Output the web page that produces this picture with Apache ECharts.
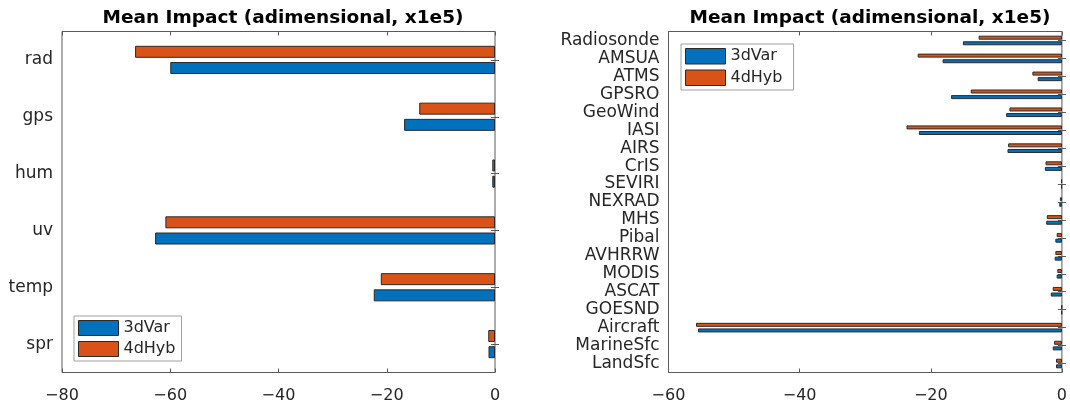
<!DOCTYPE html>
<html>
<head>
<meta charset="utf-8" />
<title>Mean Impact</title>
<script src="https://cdn.jsdelivr.net/npm/echarts@6/dist/echarts.min.js"></script>
<style>
  html, body { margin: 0; padding: 0; background: #fff; }
  #main { width: 1070px; height: 406px; }
</style>
</head>
<body>
<div id="main"></div>
<script>
// data (x1e5), categories listed top to bottom
var leftCats = ['rad', 'gps', 'hum', 'uv', 'temp', 'spr'];
var left3dVar = [-60.0, -16.8, -0.5, -62.8, -22.4, -1.2];
var left4dHyb = [-66.5, -14.0, -0.5, -60.9, -21.1, -1.25];

var rightCats = ['Radiosonde', 'AMSUA', 'ATMS', 'GPSRO', 'GeoWind', 'IASI', 'AIRS', 'CrIS',
  'SEVIRI', 'NEXRAD', 'MHS', 'Pibal', 'AVHRRW', 'MODIS', 'ASCAT', 'GOESND', 'Aircraft',
  'MarineSfc', 'LandSfc'];
var right3dVar = [-15.1, -18.2, -3.7, -16.9, -8.5, -21.8, -8.3, -2.6,
  -0.1, -0.4, -2.4, -1.0, -1.1, -0.8, -1.7, -0.05, -55.5, -1.4, -0.9];
var right4dHyb = [-12.7, -22.0, -4.5, -13.9, -8.0, -23.7, -8.2, -2.5,
  -0.1, -0.3, -2.3, -0.8, -1.0, -0.7, -1.4, -0.05, -55.8, -1.2, -0.9];

var leftTicks = { min: -80, max: 0, interval: 20 };
var rightTicks = { min: -60, max: 0, interval: 20 };

var FONT = 'DejaVu Sans';
var TXT = '#262626';
var LINE = '#5a5a5a';
var EDGE = '#2a2a2a';
var BLUE = '#0072BD';
var ORANGE = '#D95319';

function minusFmt(v) { return String(v).replace('-', '\u2212'); }

function valueAxis(grid, ticks, pos, labels) {
  return {
    type: 'value', gridIndex: grid, position: pos,
    min: ticks.min, max: ticks.max, interval: ticks.interval,
    axisLine: { show: false },
    axisTick: { show: true, inside: true, length: 4, lineStyle: { color: LINE } },
    splitLine: { show: false },
    axisLabel: { show: labels, formatter: minusFmt, margin: 15,
      fontFamily: FONT, fontSize: 16, color: TXT }
  };
}

function catAxis(grid, cats, pos, labels) {
  return {
    type: 'category', gridIndex: grid, position: pos, data: cats, inverse: true,
    axisLine: { show: false },
    axisTick: { show: true, inside: true, length: 4, alignWithLabel: true, interval: 0,
      lineStyle: { color: LINE } },
    axisLabel: { show: labels, interval: 0, margin: 9,
      fontFamily: FONT, fontSize: 17, color: TXT }
  };
}

function barSeries(name, color, data, xi, yi, w, gap) {
  return {
    name: name, type: 'bar', xAxisIndex: xi, yAxisIndex: yi, data: data,
    barWidth: w, barGap: gap,
    itemStyle: { color: color, borderColor: EDGE, borderWidth: 1 },
    emphasis: { disabled: true }
  };
}

function legendBox(names, left, top, h) {
  return {
    data: names, orient: 'vertical', left: left, top: top,
    itemWidth: 40, itemHeight: h, itemGap: 5, itemTextGap: 4, padding: [4, 6, 4, 4],
    borderColor: '#a0a0a0', borderWidth: 1, backgroundColor: '#fff', icon: 'rect',
    itemStyle: { borderColor: EDGE, borderWidth: 1 },
    selectedMode: false, textStyle: { fontFamily: FONT, fontSize: 16, color: TXT }
  };
}

var titleText = 'Mean Impact (adimensional, x1e5)';
var titleStyle = { fontFamily: FONT, fontSize: 18.5, fontWeight: 'bold', color: '#000' };

var option = {
  animation: false,
  title: [
    { text: titleText, left: 278, top: 4, textAlign: 'center', textStyle: titleStyle },
    { text: titleText, left: 865, top: 4, textAlign: 'center', textStyle: titleStyle }
  ],
  legend: [
    legendBox(['3dVar', '4dHyb'], 74, 316, 15),
    legendBox(['3dVar ', '4dHyb '], 681, 44, 15.5)
  ],
  grid: [
    { left: 62, right: 575, top: 31.5, bottom: 33.5, show: true, borderColor: LINE, borderWidth: 1 },
    { left: 668.5, right: 8, top: 31.5, bottom: 33.5, show: true, borderColor: LINE, borderWidth: 1 }
  ],
  xAxis: [
    valueAxis(0, leftTicks, 'bottom', true),
    valueAxis(0, leftTicks, 'top', false),
    valueAxis(1, rightTicks, 'bottom', true),
    valueAxis(1, rightTicks, 'top', false)
  ],
  yAxis: [
    catAxis(0, leftCats, 'left', true),
    catAxis(0, leftCats, 'right', false),
    catAxis(1, rightCats, 'left', true),
    catAxis(1, rightCats, 'right', false)
  ],
  series: [
    barSeries('4dHyb', ORANGE, left4dHyb, 0, 0, 12, '35%'),
    barSeries('3dVar', BLUE, left3dVar, 0, 0, 12, '35%'),
    barSeries('4dHyb ', ORANGE, right4dHyb, 2, 2, 4, '40%'),
    barSeries('3dVar ', BLUE, right3dVar, 2, 2, 4, '40%')
  ]
};

var myChart = echarts.init(document.getElementById('main'));
myChart.setOption(option);
</script>
</body>
</html>
